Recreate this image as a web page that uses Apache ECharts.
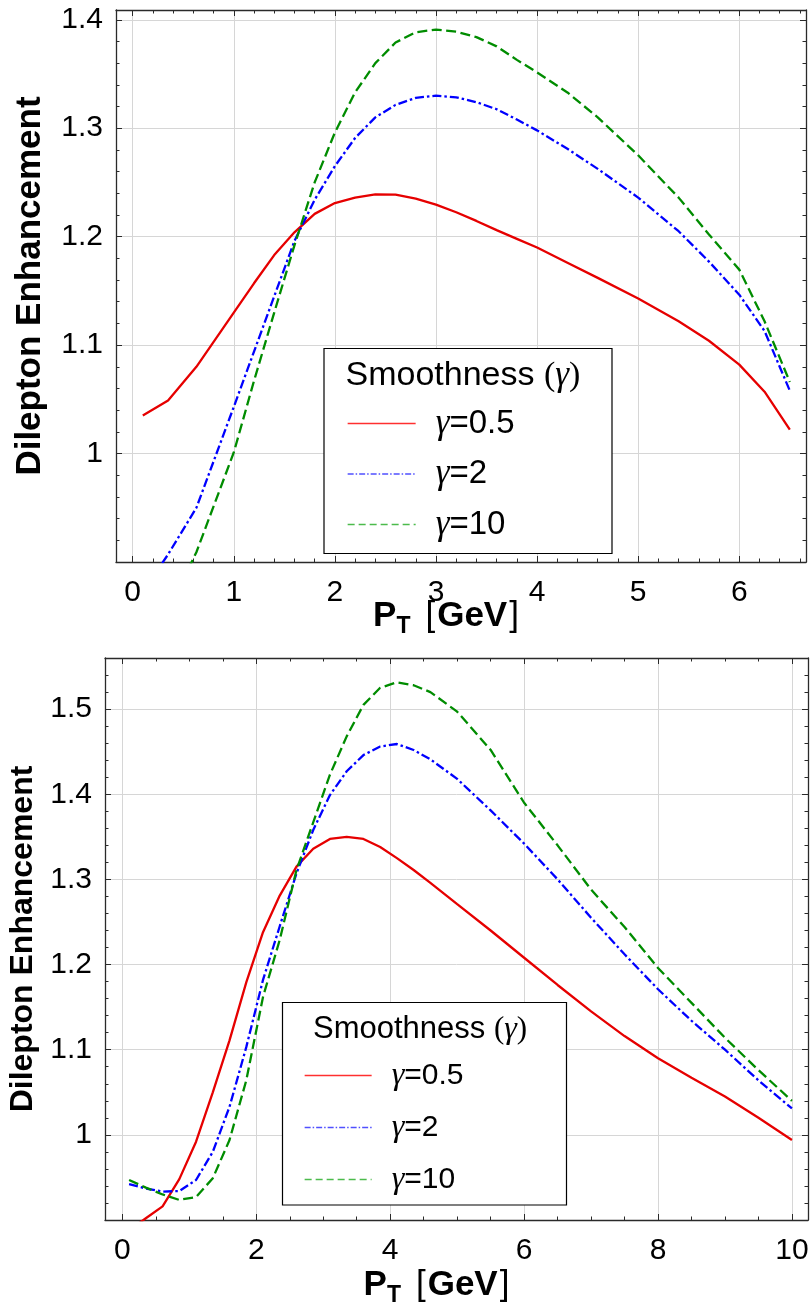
<!DOCTYPE html>
<html><head><meta charset="utf-8">
<script src="https://cdn.jsdelivr.net/npm/echarts@6/dist/echarts.min.js"></script>
<style>html,body{margin:0;padding:0;background:#fff}#c{width:812px;height:1307px}</style>
</head><body><div id="c"></div>
<script>
// ---------- data ----------
const seriesNames = ['γ=0.5', 'γ=2', 'γ=10'];

// Top panel
const topX =      [0.1, 0.35, 0.63, 1.0, 1.2, 1.4, 1.6, 1.8, 2.0, 2.2, 2.4, 2.6, 2.8, 3.0, 3.2, 3.4, 3.6, 3.8, 4.0, 4.3, 4.6, 5.0, 5.4, 5.7, 6.0, 6.25, 6.5];
const topGamma05 = [1.035, 1.049, 1.080, 1.130, 1.157, 1.183, 1.204, 1.221, 1.231, 1.236, 1.239, 1.2387, 1.235, 1.2295, 1.2225, 1.2145, 1.206, 1.198, 1.190, 1.176, 1.162, 1.143, 1.122, 1.104, 1.082, 1.057, 1.022];
const topGamma2 =  [0.872, 0.907, 0.950, 1.043, 1.094, 1.145, 1.196, 1.234, 1.265, 1.291, 1.310, 1.3215, 1.328, 1.330, 1.3285, 1.324, 1.3175, 1.308, 1.298, 1.281, 1.2625, 1.236, 1.205, 1.177, 1.1465, 1.113, 1.058];
const topGamma10 = [0.810, 0.855, 0.909, 1.001, 1.067, 1.130, 1.192, 1.250, 1.296, 1.333, 1.360, 1.379, 1.3885, 1.391, 1.389, 1.384, 1.3755, 1.363, 1.3515, 1.333, 1.310, 1.275, 1.236, 1.202, 1.1696, 1.122, 1.066];

// Bottom panel
const botX =      [0.1, 0.35, 0.6, 0.85, 1.1, 1.35, 1.6, 1.85, 2.1, 2.35, 2.6, 2.85, 3.1, 3.35, 3.6, 3.85, 4.1, 4.35, 4.6, 5.0, 5.5, 6.0, 6.5, 7.0, 7.5, 8.0, 8.5, 9.0, 9.5, 10.0];
const botGamma05 = [0.888, 0.902, 0.916, 0.948, 0.992, 1.050, 1.111, 1.179, 1.238, 1.281, 1.315, 1.336, 1.3475, 1.350, 1.3475, 1.338, 1.325, 1.311, 1.296, 1.271, 1.240, 1.208, 1.176, 1.145, 1.116, 1.090, 1.067, 1.045, 1.020, 0.994];
const botGamma2 =  [0.942, 0.937, 0.9334, 0.934, 0.947, 0.980, 1.033, 1.103, 1.182, 1.245, 1.307, 1.358, 1.399, 1.427, 1.446, 1.456, 1.459, 1.452, 1.441, 1.418, 1.381, 1.342, 1.300, 1.255, 1.212, 1.171, 1.134, 1.100, 1.064, 1.031];
const botGamma10 = [0.947, 0.938, 0.930, 0.9236, 0.927, 0.949, 0.994, 1.064, 1.162, 1.229, 1.311, 1.367, 1.423, 1.468, 1.505, 1.525, 1.5315, 1.528, 1.520, 1.497, 1.452, 1.390, 1.340, 1.288, 1.244, 1.196, 1.155, 1.114, 1.076, 1.040];

// axis ranges / tick steps
const topXRange = [-0.165, 6.66], topXStep = 1, topXMinor = 5;
const topYRange = [0.9, 1.409], topYStep = 0.1, topYMinor = 5;
const botXRange = [-0.26, 10.24], botXStep = 2, botXMinor = 4;
const botYRange = [0.9, 1.56], botYStep = 0.1, botYMinor = 5;

const yTitle = 'Dilepton Enhancement';
const legendTitle = ['Smoothness ', '(', 'γ', ')'];

// ---------- styling ----------
const SANS = 'Liberation Sans, Arial, Helvetica, sans-serif';
const SERIF = 'Liberation Serif, Times New Roman, serif';
const FRAME = '#2a2a2a';
const seriesColors = ['#e60000', '#0000ff', '#008c00'];
const seriesDash = ['solid', [9, 3, 2.5, 3], [10, 4.5]];
const legendColors = ['#ff3030', '#5050ff', '#4cbb4c'];
const legendDash = ['solid', [6, 2, 1.5, 2], [7, 4]];

function zip(xs, ys) { return xs.map((x, i) => [x, ys[i]]); }

function xAxis(grid, range, step, minor, main, pos, nameGap, namePadRight, nameSize) {
  const ax = {
    type: 'value', gridIndex: grid, position: pos,
    min: range[0], max: range[1], minInterval: step, maxInterval: step,
    axisLine: { show: true, onZero: false, lineStyle: { color: FRAME, width: 1.3 } },
    axisTick: { show: true, inside: true, length: 6, lineStyle: { color: FRAME, width: 1 } },
    minorTick: { show: true, splitNumber: minor, length: 3.5, lineStyle: { color: FRAME, width: 1 } },
    axisLabel: { show: main, showMinLabel: false, showMaxLabel: false, margin: 16, fontSize: 30, color: '#000', fontFamily: SANS },
    splitLine: { show: main, lineStyle: { color: '#d6d6d6', width: 1 } },
    minorSplitLine: { show: false }
  };
  if (main) {
    ax.name = '{p|P}{s|T}{o|[}{p|GeV}{c|]}';
    ax.nameLocation = 'middle';
    ax.nameGap = nameGap;
    ax.nameMoveOverlap = false;
    ax.nameTextStyle = {
      padding: [0, namePadRight, 0, 0],
      rich: {
        p: { fontSize: nameSize, fontWeight: 'bold', fontFamily: SANS, color: '#000' },
        s: { fontSize: Math.round(nameSize * 0.66), fontWeight: 'bold', fontFamily: SANS, color: '#000', padding: [20, 0, 0, 0] },
        o: { fontSize: nameSize, fontWeight: 'normal', fontFamily: SANS, color: '#000', padding: [0, 2, 0, 15] },
        c: { fontSize: nameSize, fontWeight: 'normal', fontFamily: SANS, color: '#000', padding: [0, 0, 0, 2] }
      }
    };
  }
  return ax;
}

function yAxis(grid, range, step, minor, main, pos, nameGap, nameSize) {
  const ax = {
    type: 'value', gridIndex: grid, position: pos,
    min: range[0], max: range[1], minInterval: step, maxInterval: step,
    axisLine: { show: true, onZero: false, lineStyle: { color: FRAME, width: 1.3 } },
    axisTick: { show: true, inside: true, length: 6, lineStyle: { color: FRAME, width: 1 } },
    minorTick: { show: true, splitNumber: minor, length: 3.5, lineStyle: { color: FRAME, width: 1 } },
    axisLabel: { show: main, showMinLabel: false, showMaxLabel: false, margin: 13, fontSize: 30, color: '#000', fontFamily: SANS },
    splitLine: { show: main, lineStyle: { color: '#d6d6d6', width: 1 } },
    minorSplitLine: { show: false }
  };
  if (main) {
    ax.name = yTitle;
    ax.nameLocation = 'middle';
    ax.nameGap = nameGap;
    ax.nameRotate = 90;
    ax.nameTextStyle = { fontSize: nameSize, fontWeight: 'bold', fontFamily: SANS, color: '#000' };
  }
  return ax;
}

function lineSeries(i, xs, ys, xi, yi) {
  return {
    type: 'line', name: seriesNames[i], xAxisIndex: xi, yAxisIndex: yi,
    data: zip(xs, ys), symbol: 'none', smooth: false, clip: true, z: 3,
    lineStyle: { color: seriesColors[i], width: 2.3, type: seriesDash[i], cap: 'butt' },
    itemStyle: { color: seriesColors[i] },
    emphasis: { disabled: true }
  };
}

function legend(left, top, itemW, gap, fs, padL) {
  return {
    orient: 'vertical', left: left, top: top, padding: 0,
    itemWidth: itemW, itemHeight: 14, itemGap: gap, selectedMode: false, z: 10,
    data: seriesNames.map((n, i) => ({
      name: n,
      lineStyle: { color: legendColors[i], width: 1.3, type: legendDash[i] },
      itemStyle: { color: legendColors[i], opacity: 0, borderWidth: 0 }
    })),
    formatter: n => '{g|γ}{t|=' + n.split('=')[1] + '}',
    textStyle: {
      rich: {
        g: { fontSize: fs + 2, fontStyle: 'italic', fontFamily: SERIF, color: '#000', lineHeight: 30, padding: [0, 0, 0, padL] },
        t: { fontSize: fs, fontFamily: SANS, color: '#000', lineHeight: 30 }
      }
    }
  };
}

function legendBox(x, y, w, h, tx, ty, fs) {
  return [
    { type: 'rect', z: 5, shape: { x: x, y: y, width: w, height: h },
      style: { fill: '#fff', stroke: '#000', lineWidth: 1.2 } },
    { type: 'text', z: 12, x: tx, y: ty,
      style: {
        text: '{a|' + legendTitle[0] + '}{b|' + legendTitle[1] + '}{g|' + legendTitle[2] + '}{b|' + legendTitle[3] + '}',
        verticalAlign: 'middle',
        rich: {
          a: { fontSize: fs, fontFamily: SANS, fill: '#000' },
          b: { fontSize: fs, fontFamily: SERIF, fill: '#000' },
          g: { fontSize: fs + 1, fontFamily: SERIF, fontStyle: 'italic', fill: '#000' }
        }
      } }
  ];
}

const chart = echarts.init(document.getElementById('c'), null, { renderer: 'canvas' });
chart.setOption({
  animation: false,
  backgroundColor: '#fff',
  grid: [
    { left: 116, top: 10, width: 690, height: 552, containLabel: false, outerBoundsMode: 'none' },
    { left: 105, top: 658, width: 703, height: 562, containLabel: false, outerBoundsMode: 'none' }
  ],
  xAxis: [
    xAxis(0, topXRange, topXStep, topXMinor, true, 'bottom', 33, 30, 35),
    xAxis(0, topXRange, topXStep, topXMinor, false, 'top'),
    xAxis(1, botXRange, botXStep, botXMinor, true, 'bottom', 44, 40, 35),
    xAxis(1, botXRange, botXStep, botXMinor, false, 'top')
  ],
  yAxis: [
    yAxis(0, topYRange, topYStep, topYMinor, true, 'left', 68, 35),
    yAxis(0, topYRange, topYStep, topYMinor, false, 'right'),
    yAxis(1, botYRange, botYStep, botYMinor, true, 'left', 66, 32),
    yAxis(1, botYRange, botYStep, botYMinor, false, 'right')
  ],
  legend: [
    legend(347, 406, 68, 15.5, 33, 15),
    legend(304, 1059.5, 67, 20, 30, 15)
  ],
  graphic: [].concat(
    legendBox(324, 348.5, 288, 205, 345.5, 376, 34),
    legendBox(282.5, 1002.5, 284, 202.5, 313, 1029.5, 31)
  ),
  series: [
    lineSeries(0, topX, topGamma05, 0, 0),
    lineSeries(1, topX, topGamma2, 0, 0),
    lineSeries(2, topX, topGamma10, 0, 0),
    lineSeries(0, botX, botGamma05, 2, 2),
    lineSeries(1, botX, botGamma2, 2, 2),
    lineSeries(2, botX, botGamma10, 2, 2)
  ]
});
</script>
</body></html>
